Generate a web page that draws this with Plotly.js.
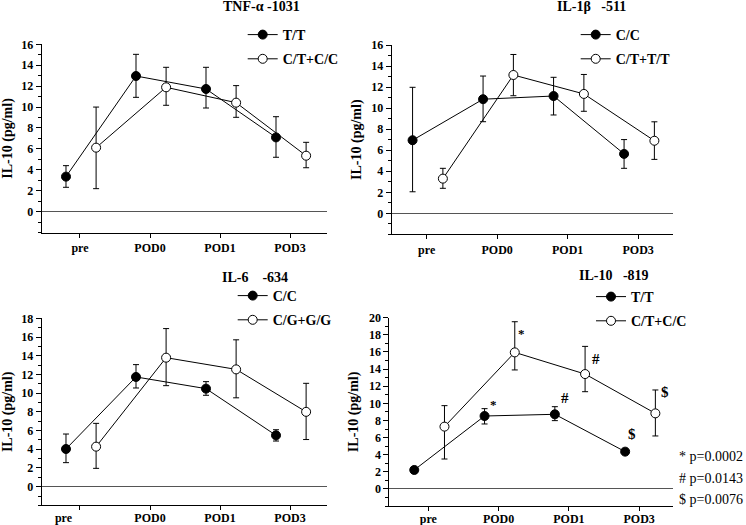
<!DOCTYPE html>
<html><head><meta charset="utf-8">
<script src="https://cdn.plot.ly/plotly-3.0.1.min.js"></script>
<style>html,body{margin:0;padding:0;background:#fff;} #chart{width:746px;height:525px;}</style>
</head><body><div id="chart"></div>
<script>
// ---------- DATA ----------
const categories = ["pre", "POD0", "POD1", "POD3"];

// Panel 1: TNF-alpha -1031
const p1Title = "TNF-α -1031";
const p1Names = ["T/T", "C/T+C/C"];
const p1A = [3.35, 12.97, 11.73, 7.1];
const p1AUp = [1.05, 2.07, 2.07, 1.98];
const p1ADown = [1.02, 2.04, 1.82, 1.9];
const p1B = [6.12, 11.89, 10.42, 5.35];
const p1BUp = [3.88, 1.91, 1.63, 1.28];
const p1BDown = [3.92, 1.72, 1.4, 1.15];

// Panel 2: IL-1beta -511
const p2Title = "IL-1β\u00a0\u00a0 -511";
const p2Names = ["C/C", "C/T+T/T"];
const p2A = [6.95, 10.85, 11.15, 5.65];
const p2AUp = [5.03, 2.2, 1.78, 1.36];
const p2ADown = [4.9, 2.14, 1.8, 1.37];
const p2B = [3.3, 13.15, 11.35, 6.9];
const p2BUp = [0.98, 1.95, 1.85, 1.8];
const p2BDown = [0.92, 1.97, 1.65, 1.77];

// Panel 3: IL-6 -634
const p3Title = "IL-6\u00a0\u00a0\u00a0 -634";
const p3Names = ["C/C", "C/G+G/G"];
const p3A = [4.03, 11.73, 10.48, 5.49];
const p3AUp = [1.6, 1.32, 0.75, 0.6];
const p3ADown = [1.46, 1.18, 0.71, 0.61];
const p3B = [4.28, 13.79, 12.54, 8.0];
const p3BUp = [2.49, 3.11, 3.16, 3.05];
const p3BDown = [2.32, 2.99, 3.04, 2.96];

// Panel 4: IL-10 -819
const p4Title = "IL-10\u00a0\u00a0 -819";
const p4Names = ["T/T", "C/T+C/C"];
const p4A = [2.22, 8.52, 8.72, 4.36];
const p4AUp = [0.2, 0.86, 0.89, 0.2];
const p4ADown = [0.2, 0.93, 0.74, 0.2];
const p4B = [7.28, 15.95, 13.42, 8.83];
const p4BUp = [2.45, 3.58, 3.23, 2.73];
const p4BDown = [3.78, 2.05, 2.06, 2.64];
const p4SigA = ["", "*", "#", "$"];
const p4SigB = ["", "*", "#", "$"];

const pValueNotes = ["* p=0.0002", "# p=0.0143", "$ p=0.0076"];
const yTitle = "IL-10 (pg/ml)";

// ---------- STYLE / LAYOUT ----------
const FONT = "Liberation Serif, Times New Roman, serif";
const offA = -0.2, offB = 0.23;
const W = 746, H = 525;
const px = v => v / W, py = v => 1 - v / H;

function seriesTraces(k, names, a, aUp, aDown, b, bUp, bDown, legendId) {
  const xa = categories.map((c, i) => i + offA);
  const xb = categories.map((c, i) => i + offB);
  const common = {
    type: "scatter", mode: "lines+markers",
    xaxis: "x" + (k === 1 ? "" : k), yaxis: "y" + (k === 1 ? "" : k),
    line: {color: "black", width: 1},
    legend: legendId, hoverinfo: "skip"
  };
  return [
    Object.assign({}, common, {
      name: names[0], x: xa, y: a, legendgroup: "a" + k,
      marker: {size: 9, color: "black", line: {color: "black", width: 1}},
      error_y: {type: "data", symmetric: false, array: aUp, arrayminus: aDown, color: "black", thickness: 1, width: 3}
    }),
    Object.assign({}, common, {
      name: names[1], x: xb, y: b, legendgroup: "b" + k,
      marker: {size: 9, color: "white", line: {color: "black", width: 1}},
      error_y: {type: "data", symmetric: false, array: bUp, arrayminus: bDown, color: "black", thickness: 1, width: 3}
    })
  ];
}

const data = [].concat(
  seriesTraces(1, p1Names, p1A, p1AUp, p1ADown, p1B, p1BUp, p1BDown, "legend"),
  seriesTraces(2, p2Names, p2A, p2AUp, p2ADown, p2B, p2BUp, p2BDown, "legend2"),
  seriesTraces(3, p3Names, p3A, p3AUp, p3ADown, p3B, p3BUp, p3BDown, "legend3"),
  seriesTraces(4, p4Names, p4A, p4AUp, p4ADown, p4B, p4BUp, p4BDown, "legend4")
);

function xAxis(domain, range, ticktext, anchor, standoff) {
  return {
    domain: domain, range: range, anchor: anchor,
    tickmode: "array", tickvals: categories.map((c, i) => i), ticktext: ticktext,
    showline: true, linecolor: "black", linewidth: 1,
    ticks: "outside", ticklen: 4, tickcolor: "black", tickwidth: 1,
    ticklabelstandoff: standoff,
    showgrid: false, zeroline: false, fixedrange: true,
    tickfont: {family: FONT, size: 12, color: "black", weight: "bold"}
  };
}
function yAxis(domain, max, anchor) {
  const tv = [];
  for (let v = 0; v <= max; v += 2) tv.push(v);
  return {
    domain: domain, range: [-2, max], anchor: anchor,
    tickmode: "array", tickvals: tv,
    showline: true, linecolor: "black", linewidth: 1,
    ticks: "outside", ticklen: 5, tickcolor: "black", tickwidth: 1,
    minor: {dtick: 1, tick0: 0, ticks: "outside", ticklen: 3, tickcolor: "black", tickwidth: 1, showgrid: false},
    showgrid: false, zeroline: true, zerolinecolor: "#555", zerolinewidth: 1,
    fixedrange: true,
    tickfont: {family: FONT, size: 12, color: "black", weight: "bold"},
    title: {text: yTitle, standoff: 6, font: {family: FONT, size: 14, color: "black", weight: "bold"}}
  };
}

const p3TickText = categories.map((c, i) => i === 0 ? c + "\u00a0".repeat(11) : c);

function legendBox(xp, ytop) {
  return {
    x: px(xp), y: py(ytop), xanchor: "left", yanchor: "top",
    bgcolor: "rgba(0,0,0,0)", borderwidth: 0,
    font: {family: FONT, size: 14, color: "black", weight: "bold"},
    traceorder: "grouped", tracegroupgap: 3, itemclick: false, itemdoubleclick: false
  };
}

const annotations = [];
function titleAnn(text, cx, cy) {
  annotations.push({xref: "paper", yref: "paper", x: px(cx), y: py(cy), text: text,
    showarrow: false, xanchor: "center", yanchor: "middle",
    font: {family: FONT, size: 14, color: "black", weight: "bold"}});
}
titleAnn(p1Title, 261, 7);
titleAnn(p2Title, 591, 7);
titleAnn(p3Title, 255, 277);
titleAnn(p4Title, 614, 275);

const sigShiftA = [[0, 0], [3, 2], [4, 6], [1, 8]];
const sigShiftB = [[0, 0], [1, 9], [5, 5], [4, 11]];
function sigFont(s) {
  return {family: FONT, size: s === "*" ? 13 : 15, color: "#000000", weight: "bold"};
}
p4SigA.forEach((s, i) => {
  if (!s) return;
  annotations.push({xref: "x4", yref: "y4", x: i + offA, y: p4A[i], text: s, showarrow: false,
    xanchor: "left", yanchor: "bottom", xshift: sigShiftA[i][0], yshift: sigShiftA[i][1],
    font: sigFont(s)});
});
p4SigB.forEach((s, i) => {
  if (!s) return;
  annotations.push({xref: "x4", yref: "y4", x: i + offB, y: p4B[i], text: s, showarrow: false,
    xanchor: "left", yanchor: "bottom", xshift: sigShiftB[i][0], yshift: sigShiftB[i][1],
    font: sigFont(s)});
});
const noteY = [456, 478, 499];
pValueNotes.forEach((t, i) => {
  annotations.push({xref: "paper", yref: "paper", x: px(677), y: py(noteY[i]), text: t,
    showarrow: false, xanchor: "left", yanchor: "middle",
    font: {family: FONT, size: 14, color: "black"}});
});

const layout = {
  width: W, height: H,
  margin: {l: 0, r: 0, t: 0, b: 0},
  paper_bgcolor: "white", plot_bgcolor: "white",
  showlegend: true,
  font: {family: FONT, color: "black"},
  xaxis: xAxis([px(41.7), px(326.7)], [-0.547, 3.524], categories, "y", 0),
  yaxis: yAxis([py(232.6), py(44.3)], 16, "x"),
  xaxis2: xAxis([px(391.7), px(673)], [-0.496, 3.494], categories, "y2", 0),
  yaxis2: yAxis([py(234.4), py(45)], 16, "x2"),
  xaxis3: xAxis([px(41.7), px(326.7)], [-0.547, 3.524], p3TickText, "y3", -3),
  yaxis3: yAxis([py(505.4), py(318.3)], 18, "x3"),
  xaxis4: xAxis([px(389.3), px(673.3)], [-0.555, 3.485], categories, "y4", -3),
  yaxis4: yAxis([py(506.1), py(317.7)], 20, "x4"),
  legend: legendBox(242.7, 19),
  legend2: legendBox(575.7, 19),
  legend3: legendBox(232.7, 280),
  legend4: legendBox(591, 281),
  annotations: annotations
};

Plotly.newPlot("chart", data, layout, {displayModeBar: false, staticPlot: true});
</script>
</body></html>
